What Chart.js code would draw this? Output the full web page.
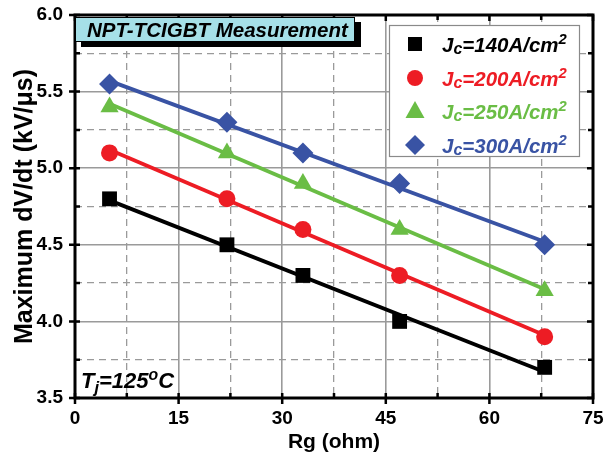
<!DOCTYPE html>
<html><head><meta charset="utf-8">
<script src="https://cdn.jsdelivr.net/npm/chart.js@4/dist/chart.umd.min.js"></script>
<style>html,body{margin:0;padding:0;background:#fff}canvas{display:block}</style>
</head><body>
<canvas id="c" width="606" height="459"></canvas>
<script>
// ---- data ----
const rg = [5, 22, 33, 47, 68];
const jc140 = [4.8, 4.5, 4.3, 4.0, 3.7];
const jc200 = [5.1, 4.8, 4.6, 4.3, 3.9];
const jc250 = [5.4, 5.1, 4.9, 4.6, 4.2];
const jc300 = [5.55, 5.3, 5.1, 4.9, 4.5];
// linear-fit line end points
const fitX = [5, 68];
const fit140 = [4.79, 3.67];
const fit200 = [5.12, 3.91];
const fit250 = [5.42, 4.21];
const fit300 = [5.57, 4.52];
const seriesJc = ['140', '200', '250', '300'];
const xTicks = [0, 15, 30, 45, 60, 75];
const yTicks = [3.5, 4.0, 4.5, 5.0, 5.5, 6.0];
const titleText = 'NPT-TCIGBT Measurement';
const xTitle = 'Rg (ohm)';
const yTitle = 'Maximum dV/dt (kV/\u03bcs)';

const colors = ['#000000', '#ed1c24', '#6abd45', '#3953a4'];
const shapes = ['rect', 'circle', 'triangle', 'rectRot'];
const radii = [10.5, 8.5, 10.5, 10.5];
const FONT = "'Liberation Sans', Arial, sans-serif";

const vals = [jc140, jc200, jc250, jc300];
const fits = [fit140, fit200, fit250, fit300];

function withMinor(t) {
  const out = [];
  for (let i = 0; i < t.length; i++) {
    out.push(t[i]);
    if (i < t.length - 1) out.push((t[i] + t[i + 1]) / 2);
  }
  return out;
}
const xAll = withMinor(xTicks);
const yAll = withMinor(yTicks);
const isMajor = (arr, v) => arr.some(t => Math.abs(t - v) < 1e-9);

const datasets = [];
vals.forEach((v, i) => {
  datasets.push({
    label: 'Jc=' + seriesJc[i] + 'A/cm2',
    data: rg.map((x, k) => ({x: x, y: v[k]})),
    showLine: false,
    pointStyle: shapes[i],
    pointRadius: radii[i],
    pointBackgroundColor: colors[i],
    pointBorderColor: colors[i],
    pointBorderWidth: 0,
    order: 1
  });
});
fits.forEach((f, i) => {
  datasets.push({
    label: 'fit' + seriesJc[i],
    data: fitX.map((x, k) => ({x: x, y: f[k]})),
    showLine: true,
    borderColor: colors[i],
    borderWidth: 3.8,
    pointRadius: 0,
    order: 2
  });
});

function drawRich(ctx, parts, x, y, size, color) {
  let cx = x;
  parts.forEach(([t, m]) => {
    let s = size, dy = 0;
    if (m === 'sub') { s = size * 0.75; dy = 5; }
    else if (m === 'sup') { s = size * 0.72; dy = -8; }
    else if (m === 'small') { s = size * 0.78; dy = 2; }
    ctx.font = 'italic bold ' + s + 'px ' + FONT;
    ctx.fillStyle = color;
    ctx.fillText(t, cx, y + dy);
    cx += ctx.measureText(t).width;
  });
}

function drawMarker(ctx, shape, x, y, color) {
  ctx.fillStyle = color;
  ctx.beginPath();
  if (shape === 'rect') { ctx.rect(x - 7, y - 7, 14, 14); }
  else if (shape === 'circle') { ctx.arc(x, y, 8, 0, Math.PI * 2); }
  else if (shape === 'triangle') { ctx.moveTo(x, y - 10); ctx.lineTo(x + 9.5, y + 7); ctx.lineTo(x - 9.5, y + 7); ctx.closePath(); }
  else { ctx.moveTo(x, y - 10); ctx.lineTo(x + 10, y); ctx.lineTo(x, y + 10); ctx.lineTo(x - 10, y); ctx.closePath(); }
  ctx.fill();
}

const decor = {
  id: 'decor',
  afterDraw(chart) {
    const ctx = chart.ctx;
    const a = chart.chartArea;
    const xs = chart.scales.x, ys = chart.scales.y;
    ctx.save();
    ctx.strokeStyle = '#000';
    ctx.lineWidth = 2.5;
    xAll.forEach(v => {
      const px = xs.getPixelForValue(v);
      const maj = isMajor(xTicks, v);
      ctx.beginPath();
      if (maj) { ctx.moveTo(px, a.bottom - 5); ctx.lineTo(px, a.bottom + 6); }
      else { ctx.moveTo(px, a.bottom - 5); ctx.lineTo(px, a.bottom); }
      ctx.moveTo(px, a.top); ctx.lineTo(px, a.top + (maj ? 6 : 5));
      ctx.stroke();
    });
    yAll.forEach(v => {
      const py = ys.getPixelForValue(v);
      const maj = isMajor(yTicks, v);
      ctx.beginPath();
      if (maj) { ctx.moveTo(a.left - 6, py); ctx.lineTo(a.left + 5, py); }
      else { ctx.moveTo(a.left, py); ctx.lineTo(a.left + 5, py); }
      ctx.moveTo(a.right, py); ctx.lineTo(a.right - (maj ? 6 : 5), py);
      ctx.stroke();
    });
    ctx.lineWidth = 3;
    ctx.strokeRect(a.left, a.top, a.right - a.left, a.bottom - a.top);

    // title box
    const bx = a.left, by = a.top + 2, bw = 280, bh = 25;
    ctx.fillStyle = '#000';
    ctx.fillRect(bx + 6, by + 5, bw, bh);
    ctx.fillStyle = '#a6e0e8';
    ctx.fillRect(bx, by, bw, bh);
    ctx.lineWidth = 1;
    ctx.strokeStyle = '#000';
    ctx.strokeRect(bx + 0.5, by + 0.5, bw - 1, bh - 1);
    ctx.textBaseline = 'alphabetic';
    ctx.textAlign = 'left';
    ctx.font = 'italic bold 20.5px ' + FONT;
    ctx.fillStyle = '#000';
    ctx.fillText(titleText, bx + 12, by + 20);

    // legend
    const lx = 389, ly = 25, lw = 191, lh = 132;
    ctx.fillStyle = '#fff';
    ctx.fillRect(lx, ly, lw, lh);
    ctx.strokeStyle = '#8a8a8a';
    ctx.lineWidth = 1.2;
    ctx.strokeRect(lx + 0.5, ly + 0.5, lw - 1, lh - 1);
    const rowsY = [44, 78, 111, 145];
    seriesJc.forEach((j, i) => {
      drawMarker(ctx, shapes[i], 415, rowsY[i], colors[i]);
      drawRich(ctx, [['J', 'n'], ['c', 'small'], ['=' + j + 'A/cm', 'n'], ['2', 'sup']], 442, rowsY[i] + 8, 20.5, colors[i]);
    });

    drawRich(ctx, [['T', 'n'], ['j', 'sub'], ['=125', 'n'], ['o', 'sup'], ['C', 'n']], 81, 388, 22, '#000');
    ctx.restore();
  }
};

new Chart(document.getElementById('c'), {
  type: 'scatter',
  data: {datasets: datasets},
  plugins: [decor],
  options: {
    responsive: false,
    devicePixelRatio: 1,
    animation: false,
    layout: {padding: {left: 0, right: 13, top: 15, bottom: 0}},
    plugins: {legend: {display: false}, tooltip: {enabled: false}},
    scales: {
      x: {
        type: 'linear', min: xTicks[0], max: xTicks[xTicks.length - 1],
        afterBuildTicks: s => { s.ticks = xAll.map(v => ({value: v})); },
        afterFit: s => { s.height = 61; s.paddingLeft = 0; s.paddingRight = 0; },
        ticks: {
          autoSkip: false, maxRotation: 0, padding: 9, color: '#000',
          font: {family: FONT, weight: 'bold', size: 19},
          callback: v => isMajor(xTicks, v) ? String(v) : ''
        },
        grid: {
          drawTicks: false,
          color: '#9a9a9a',
          lineWidth: c => (c.tick && isMajor(xTicks, c.tick.value)) ? 1.6 : 1.3
        },
        border: {
          display: false,
          dash: c => (c.tick && !isMajor(xTicks, c.tick.value)) ? [7, 5] : []
        },
        title: {display: true, text: xTitle, color: '#000', font: {family: FONT, weight: 'bold', size: 21}, padding: {top: 0, bottom: 4}}
      },
      y: {
        type: 'linear', min: yTicks[0], max: yTicks[yTicks.length - 1],
        afterBuildTicks: s => { s.ticks = yAll.map(v => ({value: v})); },
        afterFit: s => { s.width = 75; s.paddingTop = 0; s.paddingBottom = 0; },
        ticks: {
          autoSkip: false, padding: 12, color: '#000',
          font: {family: FONT, weight: 'bold', size: 19},
          callback: v => isMajor(yTicks, v) ? v.toFixed(1) : ''
        },
        grid: {
          drawTicks: false,
          color: '#9a9a9a',
          lineWidth: c => (c.tick && isMajor(yTicks, c.tick.value)) ? 1.6 : 1.3
        },
        border: {
          display: false,
          dash: c => (c.tick && !isMajor(yTicks, c.tick.value)) ? [7, 5] : []
        },
        title: {display: true, text: yTitle, color: '#000', font: {family: FONT, weight: 'bold', size: 25}, padding: {top: 10, bottom: 0}}
      }
    }
  }
});
</script>
</body></html>
